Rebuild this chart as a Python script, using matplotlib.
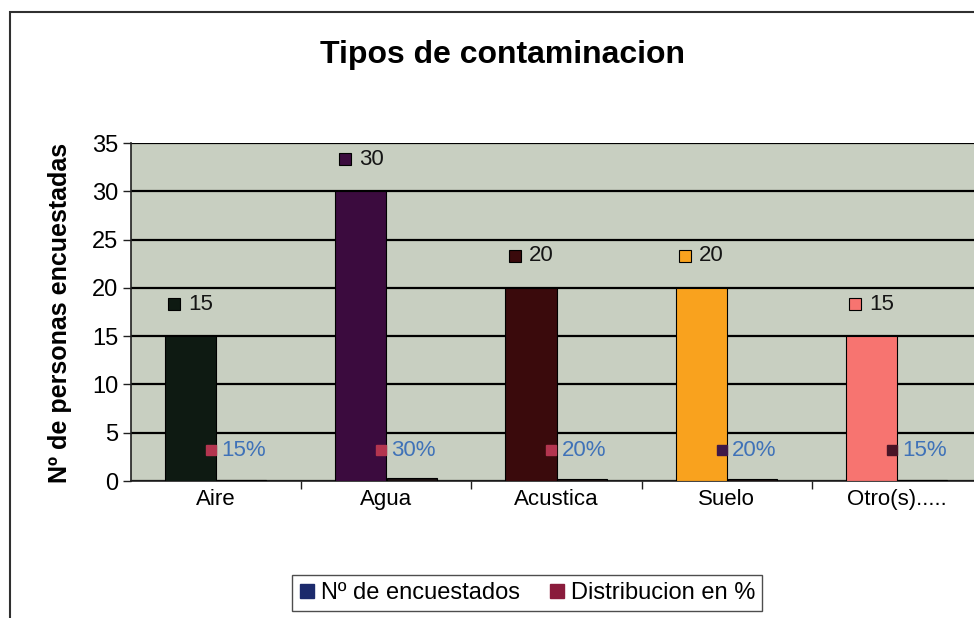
import matplotlib.pyplot as plt
from matplotlib.patches import Rectangle
from matplotlib.lines import Line2D

# data
categorias = ["Aire", "Agua", "Acustica", "Suelo", "Otro(s)....."]
encuestados = [15, 30, 20, 20, 15]
distribucion = [0.15, 0.30, 0.20, 0.20, 0.15]
etiquetas_pct = ["15%", "30%", "20%", "20%", "15%"]

colores_barra = ["#0e1a12", "#3b0b3e", "#3a0a0c", "#f9a21e", "#f77470"]
colores_pct = ["#b3354f", "#b3354f", "#b3354f", "#3e1848", "#4a1426"]

plt.rcParams['font.family'] = ['Liberation Sans', 'DejaVu Sans']

fig = plt.figure(figsize=(9.74, 6.18), dpi=100)
fig.patch.set_facecolor("white")

# outer chart frame
fig.patches.append(Rectangle((10/974, -0.05), 1.1, 1 - 12/618 + 0.05,
                             transform=fig.transFigure, fill=False,
                             edgecolor="#303030", lw=1.5))

ax = fig.add_axes([131/974, 1 - 481/618, 851/974, 338/618])
ax.set_facecolor("#c8cfc1")

x = list(range(len(categorias)))
w = 0.3
ax.bar([i - w/2 for i in x], encuestados, width=w, color=colores_barra,
       edgecolor="black", lw=0.8, zorder=3)
ax.bar([i + w/2 for i in x], distribucion, width=w - 0.01, color="#1a1010",
       edgecolor="black", lw=0.8, zorder=3)

# value labels with legend key squares
for i, v in enumerate(encuestados):
    ax.plot(i - w/2 - 0.095, v + 3.3, marker="s", ms=8, color=colores_barra[i],
            mec="black", mew=0.8, zorder=5, clip_on=False)
    ax.text(i - w/2 - 0.012, v + 3.3, str(v), fontsize=16, va="center",
            ha="left", color="#151515", zorder=5)
for i, p in enumerate(etiquetas_pct):
    ax.plot(i - 0.03, 3.2, marker="s", ms=7.5, color=colores_pct[i],
            mec=colores_pct[i], zorder=5)
    ax.text(i + 0.03, 3.2, p, fontsize=16, va="center", ha="left",
            color="#3f72b8", zorder=5)

ax.set_xlim(-0.5, 4.5)
ax.set_ylim(0, 35)
ax.set_yticks(range(0, 36, 5))
ax.yaxis.grid(True, color="black", lw=1.6, zorder=1)
ax.set_xticks(x)
ax.set_xticklabels(categorias, fontsize=16)
ax.set_xticks([i + 0.5 for i in x[:-1]], minor=True)
ax.tick_params(axis="x", which="major", length=0, pad=6)
ax.tick_params(axis="x", which="minor", length=6, width=1, color="#202020")
ax.tick_params(axis="y", labelsize=17, length=6, width=1, color="#202020",
               pad=3)

for s in ["top", "right"]:
    ax.spines[s].set_visible(False)
ax.spines["left"].set_color("#202020")
ax.spines["bottom"].set_color("#202020")
ax.spines["left"].set_linewidth(1.2)
ax.spines["bottom"].set_linewidth(1.2)

fig.text(60/974, 1 - 313/618, "Nº de personas encuestadas", fontsize=18,
         fontweight="bold", rotation=90, ha="center", va="center")
fig.text(502/974, 1 - 55/618, "Tipos de contaminacion", fontsize=23,
         fontweight="bold", ha="center", va="center")

handles = [Line2D([], [], ls="", marker="s", ms=10, color="#1c2a6c"),
           Line2D([], [], ls="", marker="s", ms=10, color="#8a1c3c")]
leg = fig.legend(handles, ["Nº de encuestados", "Distribucion en %"],
                 loc="center", bbox_to_anchor=(527/974, 1 - 593/618), ncol=2,
                 fontsize=17, frameon=True, fancybox=False, handlelength=0.7,
                 handletextpad=0.25, columnspacing=1.2, borderpad=0.3)
leg.get_frame().set_edgecolor("#202020")
leg.get_frame().set_linewidth(1.0)

fig.savefig("out.png", dpi=100)
